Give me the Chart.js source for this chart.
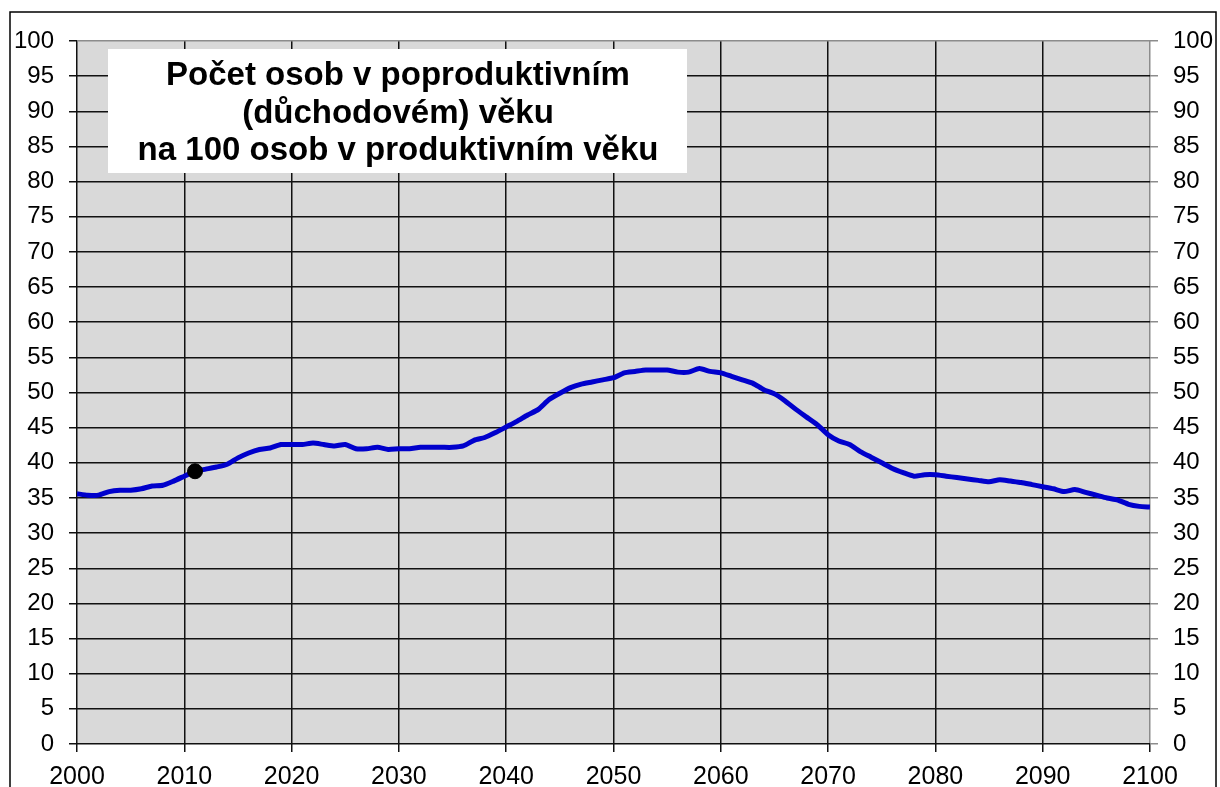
<!DOCTYPE html>
<html>
<head>
<meta charset="utf-8">
<script src="https://cdn.jsdelivr.net/npm/chart.js@4/dist/chart.umd.min.js"></script>
<style>
  body { margin: 0; background: #fff; }
  canvas { display: block; }
</style>
</head>
<body>
<canvas id="chart" width="1220" height="787"></canvas>
<script>
// Roky a hodnoty (osoby 65+ na 100 osob 15-64)
const years = [];
for (let y = 2000; y <= 2100; y++) years.push(y);

const values = [
    35.6, 35.4, 35.4, 35.9, 36.1, 36.1, 36.3, 36.7, 36.8, 37.4,
    38.1, 38.8, 39.1, 39.4, 39.8, 40.7, 41.4, 41.9, 42.1, 42.6,
    42.6, 42.6, 42.8, 42.6, 42.4, 42.6, 42.0, 42.0, 42.2, 41.9,
    42.0, 42.0, 42.2, 42.2, 42.2, 42.2, 42.4, 43.2, 43.6, 44.3,
    45.1, 45.9, 46.8, 47.6, 49.0, 49.9, 50.7, 51.2, 51.5, 51.8,
    52.1, 52.8, 53.0, 53.2, 53.2, 53.2, 52.9, 52.9, 53.4, 53.0,
    52.8, 52.3, 51.8, 51.3, 50.4, 49.8, 48.8, 47.6, 46.5, 45.4,
    44.0, 43.1, 42.6, 41.6, 40.8, 40.0, 39.2, 38.6, 38.1, 38.3,
    38.3, 38.1, 37.9, 37.7, 37.5, 37.3, 37.6, 37.4, 37.2, 36.9,
    36.6, 36.3, 35.9, 36.2, 35.8, 35.4, 35.0, 34.7, 34.1, 33.8,
    33.7
];

// aktuální rok (černá tečka)
const markerYear = [2011];
const markerValue = [38.8];

const titleLines = [
    'Počet osob v poproduktivním',
    '(důchodovém) věku',
    'na 100 osob v produktivním věku'
];

const FONT = "'Liberation Sans', Arial, sans-serif";

// pozadí, rámeček a bílé pole s nadpisem
const decorPlugin = {
    id: 'decor',
    beforeDraw(chart) {
        const { ctx, chartArea: a } = chart;
        ctx.save();
        ctx.fillStyle = '#ffffff';
        ctx.fillRect(0, 0, chart.width, chart.height);
        ctx.strokeStyle = '#000';
        ctx.lineWidth = 1.5;
        ctx.strokeRect(10, 12, 1206, 800);
        ctx.fillStyle = '#d9d9d9';
        ctx.fillRect(a.left, a.top, a.right - a.left, a.bottom - a.top);
        ctx.restore();
    },
    afterDraw(chart) {
        const { ctx } = chart;
        ctx.save();
        ctx.fillStyle = '#ffffff';
        ctx.fillRect(108, 49, 579, 124);
        ctx.fillStyle = '#000';
        ctx.font = 'bold 33px ' + FONT;
        ctx.textAlign = 'center';
        ctx.textBaseline = 'middle';
        titleLines.forEach((t, i) => ctx.fillText(t, 398, 76 + i * 37.5));
        ctx.restore();
    }
};

new Chart(document.getElementById('chart'), {
    type: 'line',
    data: {
        datasets: [{
            data: years.map((y, i) => ({ x: y, y: values[i] })),
            borderColor: '#0000cc',
            borderWidth: 5,
            pointRadius: 0,
            tension: 0.2,
            order: 2
        }, {
            type: 'scatter',
            data: markerYear.map((y, i) => ({ x: y, y: markerValue[i] })),
            backgroundColor: '#000',
            borderColor: '#000',
            pointRadius: 7.5,
            order: 1
        }]
    },
    options: {
        responsive: false,
        animation: false,
        layout: { padding: { top: 41, left: 0, right: 0, bottom: 0 } },
        plugins: {
            legend: { display: false },
            tooltip: { enabled: false }
        },
        scales: {
            x: {
                type: 'linear',
                min: 2000,
                max: 2100,
                afterFit(s) { s.height = 43; },
                border: { display: false },
                grid: {
                    color: c => c.tick && c.tick.value === 2100 ? '#8c8c8c' : '#111',
                    tickColor: '#111',
                    lineWidth: 1.5,
                    tickLength: 8
                },
                ticks: {
                    stepSize: 10,
                    padding: 10,
                    color: '#000',
                    font: { size: 25, family: FONT },
                    callback: v => String(v)
                }
            },
            y: {
                position: 'left',
                min: 0,
                max: 100,
                afterFit(s) { s.width = 77; },
                border: { display: false },
                grid: {
                    color: c => c.tick && c.tick.value === 100 ? '#8c8c8c' : '#111',
                    tickColor: '#111',
                    lineWidth: 1.5,
                    tickLength: 8
                },
                ticks: {
                    stepSize: 5,
                    padding: 15,
                    color: '#000',
                    font: { size: 24, family: FONT }
                }
            },
            y2: {
                position: 'right',
                min: 0,
                max: 100,
                afterFit(s) { s.width = 70; },
                border: { display: false },
                grid: {
                    drawOnChartArea: false,
                    tickColor: '#8c8c8c',
                    lineWidth: 1.5,
                    tickLength: 8
                },
                ticks: {
                    stepSize: 5,
                    padding: 15,
                    color: '#000',
                    font: { size: 24, family: FONT }
                }
            }
        }
    },
    plugins: [decorPlugin]
});
</script>
</body>
</html>
